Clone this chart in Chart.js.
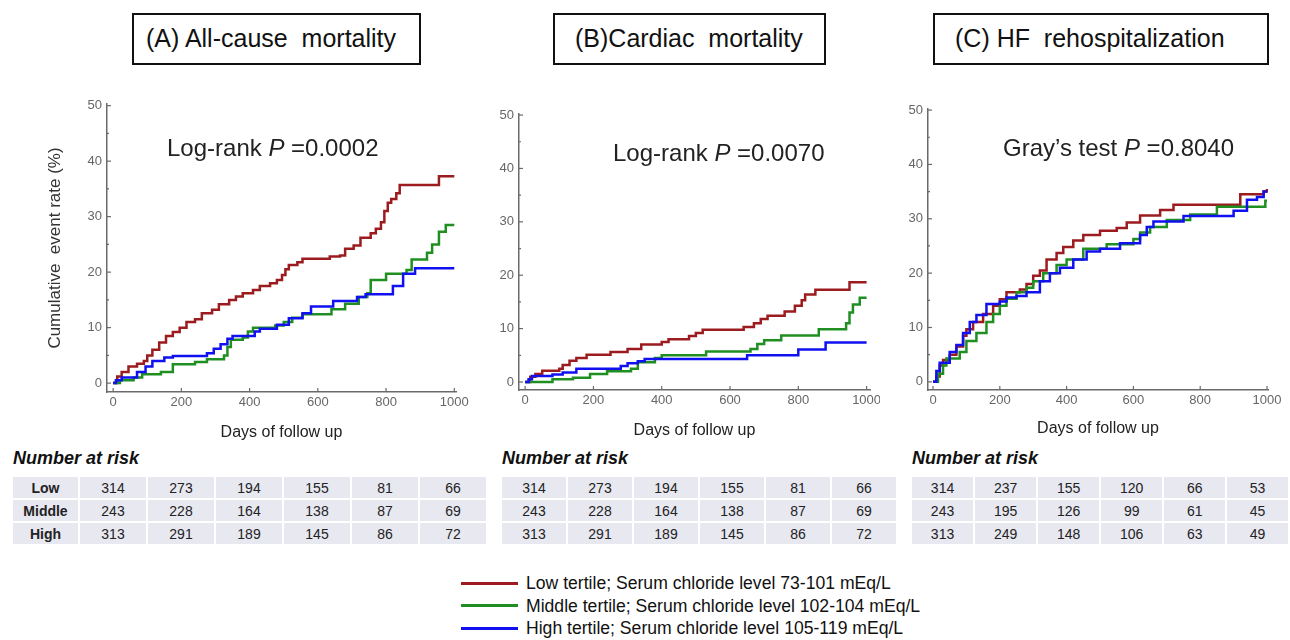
<!DOCTYPE html>
<html>
<head>
<meta charset="utf-8">
<script src="https://cdn.jsdelivr.net/npm/chart.js@4.4.1/dist/chart.umd.min.js"></script>
<style>
  body { margin: 0; width: 1290px; height: 640px; overflow: hidden; background: #fff;
         font-family: "Liberation Sans", Arial, sans-serif; color: #222; position: relative; }
  .abs { position: absolute; }
  .titlebox { position: absolute; border: 2.5px solid #111; box-sizing: border-box; font-size: 25px;
              line-height: 46px; padding-left: 12px; white-space: pre; color: #111; }
  .ptext { position: absolute; font-size: 24px; line-height: 28px; white-space: pre; color: #222; }
  .risk-head { position: absolute; font-size: 18px; font-weight: bold; font-style: italic; color: #111; }
  table.risk { position: absolute; border-collapse: separate; border-spacing: 2px; font-size: 14px; }
  table.risk td { background: #e8e8f1; height: 21px; padding: 0; text-align: center; color: #222; }
  table.risk td.lab { font-weight: bold; }
  .leg { position: absolute; left: 461px; font-size: 17.6px; line-height: 22px; white-space: pre; color: #111; }
  .leg span { display: inline-block; width: 57px; height: 3px; vertical-align: middle; margin-right: 8px; position: relative; top: -1px; }
</style>
</head>
<body>

<div class="titlebox" style="left:132px;top:13px;width:289px;height:52px;">(A) All-cause  mortality</div>
<div class="titlebox" style="left:553px;top:13px;width:273px;height:52px;padding-left:20px;">(B)Cardiac  mortality</div>
<div class="titlebox" style="left:933px;top:13px;width:336px;height:52px;padding-left:20px;">(C) HF  rehospitalization</div>

<canvas id="chartA" class="abs" width="430" height="350" style="left:40px;top:95px;"></canvas>
<canvas id="chartB" class="abs" width="390" height="350" style="left:490px;top:95px;"></canvas>
<canvas id="chartC" class="abs" width="390" height="350" style="left:900px;top:95px;"></canvas>

<div class="ptext" style="left:167px;top:134px;">Log-rank <i>P</i> =0.0002</div>
<div class="ptext" style="left:613px;top:139px;">Log-rank <i>P</i> =0.0070</div>
<div class="ptext" style="left:1003px;top:134px;">Gray’s test <i>P</i> =0.8040</div>

<div class="risk-head" style="left:13px;top:448px;">Number at risk</div>
<div class="risk-head" style="left:502px;top:448px;">Number at risk</div>
<div class="risk-head" style="left:912px;top:448px;">Number at risk</div>

<table class="risk" id="riskA" style="left:11px;top:475px;"></table>
<table class="risk" id="riskB" style="left:500px;top:475px;"></table>
<table class="risk" id="riskC" style="left:910px;top:475px;"></table>

<div id="legend"></div>

<script>
// ---- data: [day, cumulative event rate %] ----
const allCauseLow = [[0,0],[12,1.2],[25,2],[45,3],[70,3.5],[90,4],[100,5],[115,6],[135,7.3],[155,8.5],[175,9.2],[195,10],[215,11],[240,11.5],[260,12.6],[290,13.2],[310,14.2],[340,15],[360,15.6],[380,16.2],[410,16.8],[430,17.5],[460,18],[480,18.6],[495,19.5],[505,20.5],[515,21.3],[540,21.8],[555,22.4],[635,22.8],[665,23],[680,24.2],[705,24.8],[725,26.2],[755,27],[770,27.8],[785,29],[795,31],[805,32.5],[815,33.2],[830,34.2],[840,35.7],[955,37.3],[1000,37.3]];
const allCauseMiddle = [[0,0],[20,0.5],[60,1],[85,1.6],[140,2],[175,3.4],[240,3.8],[275,4.3],[325,5],[335,6.5],[345,7.8],[380,8.2],[395,9.3],[410,10],[475,10.4],[500,11],[525,11.8],[555,12.4],[640,13.3],[680,14.3],[720,15.5],[745,16.2],[755,18.6],[800,19.7],[860,20.4],[875,22.3],[920,23.5],[935,25],[955,27.3],[975,28.5],[1000,28.5]];
const allCauseHigh = [[0,0],[8,0.5],[25,1],[70,2],[95,3],[115,4],[150,4.6],[175,4.9],[275,5.4],[295,6.2],[315,7],[335,8],[350,8.5],[415,9.3],[430,9.8],[480,10.5],[515,11.7],[555,12.6],[580,13.8],[645,14.8],[715,15.5],[740,16],[820,17.5],[850,19.7],[885,20.7],[1000,20.7]];

const cardiacLow = [[0,0],[15,1],[30,1.5],[50,2.1],[100,2.5],[110,3.2],[130,4],[150,4.5],[180,5.1],[250,5.6],[300,6.2],[340,7],[400,7.5],[420,8],[480,8.6],[500,9.2],[520,9.8],[640,10.3],[670,11],[690,11.8],[710,12.4],[760,13.2],[790,14.3],[810,15.3],[820,16.4],[850,17.3],[950,18.7],[1000,18.7]];
const cardiacMiddle = [[0,0],[80,0.5],[140,0.8],[190,1.5],[240,2],[310,2.5],[330,3.7],[380,4.5],[400,5],[530,5.7],[660,6.2],[680,7.1],[700,7.8],[750,8.7],[860,9.9],[940,11],[950,13],[960,14.5],[980,15.8],[1000,15.8]];
const cardiacHigh = [[0,0],[10,0.5],[20,1.1],[80,1.4],[110,1.8],[150,2.5],[280,3],[300,3.5],[330,3.9],[350,4.3],[650,5],[800,6.1],[880,7.4],[1000,7.4]];

const hfLow = [[0,0],[10,1],[20,3],[30,4],[50,5],[70,6.5],[90,8.5],[100,9.7],[120,11],[150,12.5],[180,14],[200,15.2],[220,16.5],[260,17],[280,18],[300,19.5],[320,20.5],[340,22.5],[370,23.7],[390,24.8],[420,26],[450,27],[500,27.8],[550,28.3],[580,29.3],[620,30.6],[680,31.6],[720,32.6],[920,34.5],[990,35],[1000,35.5]];
const hfMiddle = [[0,0],[15,1.5],[30,3],[40,4.3],[80,5.5],[100,7.5],[130,9],[160,11],[180,12.5],[200,14],[220,15.3],[250,16.5],[280,17.3],[300,18.5],[330,20],[370,21.5],[400,22.5],[450,24.5],[520,25.3],[600,26.3],[620,27.5],[650,28.5],[700,29.8],[770,30.8],[850,32.2],[995,33.3],[1000,33.3]];
const hfHigh = [[0,0],[10,2],[20,3.5],[50,5.5],[70,6.8],[90,9],[110,11],[130,12.3],[160,14.3],[200,14.8],[220,15.5],[250,15.8],[280,16.5],[320,18.5],[350,20],[380,21],[420,22.5],[460,24],[500,24.5],[560,25.5],[620,27],[640,28.5],[660,29.5],[750,30.5],[900,31.5],[940,33.5],[970,34],[990,35],[1000,35]];

// number at risk (days 0, 200, 400, 600, 800, 1000)
const groups = ['Low', 'Middle', 'High'];
const allCauseRisk = [[314,273,194,155,81,66],[243,228,164,138,87,69],[313,291,189,145,86,72]];
const cardiacRisk  = [[314,273,194,155,81,66],[243,228,164,138,87,69],[313,291,189,145,86,72]];
const hfRisk       = [[314,237,155,120,66,53],[243,195,126,99,61,45],[313,249,148,106,63,49]];

const dayTicks = [0, 200, 400, 600, 800, 1000];
const rateTicks = [0, 5, 10, 15, 20, 25, 30, 35, 40, 45, 50];

const colors = ['#9b1b1e', '#1f8f22', '#1010f0'];
const legendLabels = [
  'Low tertile; Serum chloride level 73-101 mEq/L',
  'Middle tertile; Serum chloride level 102-104 mEq/L',
  'High tertile; Serum chloride level 105-119 mEq/L'
];

const tickFont = { family: '"Liberation Sans", Arial, sans-serif', size: 13 };
const axisColor = '#6a6a6a';

// small inward tick marks like the original plots
const innerTicks = {
  id: 'innerTicks',
  afterDraw(chart) {
    const ctx = chart.ctx;
    const xs = chart.scales.x, ys = chart.scales.y;
    ctx.save();
    ctx.strokeStyle = axisColor;
    ctx.lineWidth = 1.2;
    xs.ticks.forEach(t => {
      const px = xs.getPixelForValue(t.value);
      ctx.beginPath(); ctx.moveTo(px, xs.top); ctx.lineTo(px, xs.top - 4); ctx.stroke();
    });
    ys.ticks.forEach(t => {
      const py = ys.getPixelForValue(t.value);
      const len = t.value % 10 === 0 ? 4 : 2;
      ctx.beginPath(); ctx.moveTo(ys.right, py); ctx.lineTo(ys.right + len, py); ctx.stroke();
    });
    ctx.restore();
  }
};

function makeChart(id, series, opt) {
  const datasets = series.map((s, i) => ({
    data: s.map(p => ({ x: p[0], y: p[1] })),
    borderColor: colors[i],
    borderWidth: 2.5,
    stepped: 'before',
    pointRadius: 0,
    fill: false
  })).reverse();

  new Chart(document.getElementById(id), {
    type: 'line',
    data: { datasets: datasets },
    plugins: [innerTicks],
    options: {
      responsive: false,
      animation: false,
      layout: { padding: { top: opt.top, right: opt.right, left: 0, bottom: 0 } },
      plugins: { legend: { display: false }, tooltip: { enabled: false } },
      scales: {
        x: {
          type: 'linear',
          min: opt.xMin, max: opt.xMax,
          afterBuildTicks: s => { s.ticks = dayTicks.map(v => ({ value: v })); },
          afterFit: s => { s.height = opt.xHeight; s.paddingLeft = 0; s.paddingRight = 0; },
          grid: { display: false, drawTicks: false },
          border: { color: axisColor, width: 1.5 },
          ticks: { font: tickFont, color: '#666', padding: 3, maxRotation: 0, autoSkip: false,
                   callback: v => String(v) },
          title: { display: true, text: 'Days of follow up', color: '#222',
                   font: { family: '"Liberation Sans", Arial, sans-serif', size: 16 },
                   padding: { bottom: opt.titlePad, top: 0 } }
        },
        y: {
          type: 'linear',
          min: opt.yMin, max: opt.yMax,
          afterBuildTicks: s => { s.ticks = rateTicks.map(v => ({ value: v })); },
          afterFit: s => { s.width = opt.yWidth; s.paddingTop = 0; s.paddingBottom = 0; },
          grid: { display: false, drawTicks: false },
          border: { color: axisColor, width: 1.5 },
          ticks: { font: tickFont, color: '#666', padding: 5, autoSkip: false,
                   callback: v => (v % 10 === 0 ? String(v) : '') },
          title: { display: !!opt.yTitle, text: opt.yTitle || '', color: '#333',
                   font: { family: '"Liberation Sans", Arial, sans-serif', size: 17 },
                   padding: { top: 5, bottom: 0 } }
        }
      }
    }
  });
}

makeChart('chartA', [allCauseLow, allCauseMiddle, allCauseHigh],
  { xMin: -18, xMax: 1005, yMin: -1.6, yMax: 50.3, top: 9, right: 14, xHeight: 53, yWidth: 67,
    titlePad: 3, yTitle: 'Cumulative  event rate (%)' });
makeChart('chartB', [cardiacLow, cardiacMiddle, cardiacHigh],
  { xMin: -18, xMax: 1010, yMin: -1.5, yMax: 50.2, top: 19, right: 10, xHeight: 55, yWidth: 29,
    titlePad: 5 });
makeChart('chartC', [hfLow, hfMiddle, hfHigh],
  { xMin: -15, xMax: 1003, yMin: -1.5, yMax: 50.2, top: 14, right: 22, xHeight: 55, yWidth: 28,
    titlePad: 7 });

// number-at-risk tables
function fillRisk(id, rows, labels, colW, labW) {
  const tbl = document.getElementById(id);
  rows.forEach((r, i) => {
    const tr = document.createElement('tr');
    if (labels) {
      const td = document.createElement('td');
      td.className = 'lab'; td.style.width = labW + 'px'; td.textContent = groups[i];
      tr.appendChild(td);
    }
    r.forEach(v => {
      const td = document.createElement('td');
      td.style.width = colW + 'px'; td.textContent = v;
      tr.appendChild(td);
    });
    tbl.appendChild(tr);
  });
}
fillRisk('riskA', allCauseRisk, true, 66, 65);
fillRisk('riskB', cardiacRisk, false, 64);
fillRisk('riskC', hfRisk, false, 62);

// legend
const leg = document.getElementById('legend');
legendLabels.forEach((t, i) => {
  const d = document.createElement('div');
  d.className = 'leg';
  d.style.top = (572 + i * 22.5) + 'px';
  d.innerHTML = '<span style="background:' + colors[i] + '"></span>' + t;
  leg.appendChild(d);
});
</script>
</body>
</html>
